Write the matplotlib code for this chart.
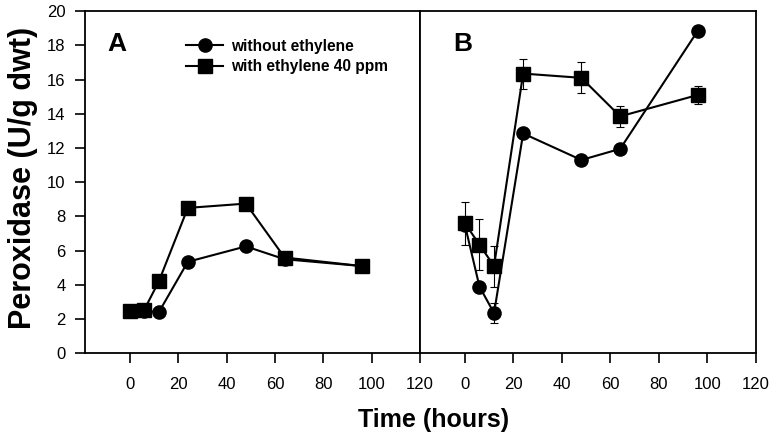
import matplotlib
matplotlib.use("Agg")
import matplotlib.pyplot as plt

plt.rcParams["font.family"] = ["Liberation Sans", "DejaVu Sans"]

# sampling times (hours)
hours = [0, 6, 12, 24, 48, 64, 96]

# panel A: peroxidase activity (U/g dwt)
a_without = [2.45, 2.5, 2.4, 5.35, 6.25, 5.5, 5.1]
a_with = [2.45, 2.55, 4.2, 8.5, 8.75, 5.6, 5.1]

# panel B: peroxidase activity with standard errors
b_without = [7.5, 3.9, 2.35, 12.85, 11.3, 11.95, 18.85]
b_without_err = [0, 0, 0.6, 0, 0, 0, 0]
b_with = [7.6, 6.35, 5.1, 16.35, 16.1, 13.85, 15.1]
b_with_err = [1.25, 1.5, 1.2, 0.88, 0.9, 0.62, 0.5]

x_ticks = [0, 20, 40, 60, 80, 100, 120]
y_ticks = [0, 2, 4, 6, 8, 10, 12, 14, 16, 18, 20]
series_names = ["without ethylene", "with ethylene 40 ppm"]

fig = plt.figure(figsize=(7.75, 4.45), dpi=100)
ax_a = fig.add_axes([0.1097, 0.206, 0.4323, 0.769])
ax_b = fig.add_axes([0.542, 0.206, 0.4335, 0.769])

line_kw = dict(color="black", lw=1.5, markersize=9.5)
err_kw = dict(ecolor="black", elinewidth=0.8, capsize=2.6, capthick=0.8)

ax_a.plot(hours, a_without, marker="o", label=series_names[0], **line_kw)
ax_a.plot(hours, a_with, marker="s", label=series_names[1], **line_kw)

ax_b.errorbar(hours, b_without, yerr=b_without_err, marker="o", **line_kw, **err_kw)
ax_b.errorbar(hours, b_with, yerr=b_with_err, marker="s", **line_kw, **err_kw)

for ax, tag, tx in [(ax_a, "A", 0.066), (ax_b, "B", 0.098)]:
    ax.set_xlim(-18.5, 120)
    ax.set_ylim(0, 20)
    ax.set_xticks(x_ticks)
    ax.set_xticklabels([str(t) for t in x_ticks], fontsize=12)
    ax.tick_params(axis="x", direction="out", length=7, width=1.2, pad=10)
    for s in ax.spines.values():
        s.set_linewidth(1.3)
    ax.text(tx, 0.94, tag, transform=ax.transAxes, fontsize=19,
            fontweight="bold", va="top", ha="left")

ax_a.set_yticks(y_ticks)
ax_a.set_yticklabels([str(v) for v in y_ticks], fontsize=12)
ax_a.tick_params(axis="y", direction="out", length=7, width=1.2, pad=7)
ax_b.set_yticks([])

ax_a.legend(loc="upper left", bbox_to_anchor=(0.26, 0.96), frameon=False,
            handlelength=2.4, handletextpad=0.5, labelspacing=0.35,
            prop=dict(weight="bold", size=11.2))

fig.text(0.03, 0.6, "Peroxidase (U/g dwt)", rotation=90, fontsize=22,
         fontweight="bold", ha="center", va="center")
fig.text(0.559, 0.056, "Time (hours)", fontsize=18, fontweight="bold",
         ha="center", va="center")

fig.savefig("out.png", dpi=100)
